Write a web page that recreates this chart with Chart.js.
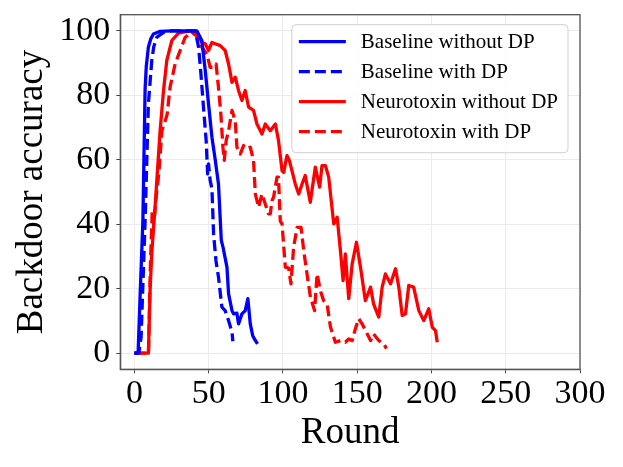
<!DOCTYPE html>
<html lang="en">
<head>
    <meta charset="UTF-8">
    <title>Backdoor accuracy vs Round</title>
    <script src="https://cdn.jsdelivr.net/npm/chart.js"></script>
    <style>
        body {
            margin: 0;
            background: #ffffff;
        }
        .chart-container {
            position: relative;
            width: 623px;
            height: 467px;
        }
    </style>
</head>
<body>
    <div class="chart-container">
        <canvas id="accChart"></canvas>
    </div>

    <script>
        // tick labels
        const xTickValues = [0, 50, 100, 150, 200, 250, 300];
        const yTickValues = [0, 20, 40, 60, 80, 100];

        // series: [round, backdoor accuracy]
        const baselineNoDP = [
            [0, 0], [2, 0], [2.5, 0.3], [4, 20], [5.7, 41], [7.2, 82], [8, 89], [9.4, 94.9],
            [11, 97.5], [12.8, 99], [17, 99.8], [25, 100], [35, 100], [42, 100], [45.4, 97],
            [47.7, 87.7], [49.9, 77.3], [52.2, 67], [54.4, 60], [56.6, 52.5], [58.5, 35],
            [59.6, 33], [62.3, 26.7], [63.4, 18.4], [65.7, 13.2], [66.8, 12.2], [69, 12.4],
            [70.1, 9.1], [72.4, 12.2], [74.6, 13.2], [76.4, 16.9], [78, 9.1], [79.6, 5.5],
            [80.8, 4.4], [82.9, 2.9]
        ];
        const baselineDP = [
            [0, 0], [3, 0], [4.5, 5], [7.2, 41], [9.4, 77.3], [11.7, 90.8], [13, 95], [15.1, 98],
            [19.6, 99.5], [25, 100], [35, 100], [41, 100], [43.2, 94.9], [44.8, 86.6], [46.5, 76.3],
            [48.3, 66], [48.8, 60.8], [49.3, 55.6], [49.9, 58.7], [51, 53.6], [52.2, 51],
            [53.3, 37], [54.9, 28.7], [56.6, 23.6], [58.9, 14.3], [61.1, 13.2], [63.4, 10.1],
            [65.7, 6.5], [66.3, 3.7]
        ];
        const neurotoxinNoDP = [
            [0, 0], [9.4, 0], [10, 10], [10.6, 20], [11.7, 31], [14, 46], [17.3, 69], [19.6, 81.5],
            [21.8, 90.8], [25.2, 97], [29.7, 99.3], [33, 99.6], [37.5, 100], [42, 99], [45.4, 96.4],
            [47.7, 96], [49.9, 93.9], [52.2, 96.4], [54.4, 96], [57.8, 95.4], [61.1, 93.9],
            [63.4, 89.7], [65.7, 84], [67.9, 85.6], [70.1, 81.5], [72.4, 78.4], [74.6, 81.5],
            [76.9, 76.3], [80.2, 75.3], [82.5, 71.1], [85.9, 68], [88.1, 71.1], [91.5, 69],
            [94.9, 71.1], [97, 66], [99.4, 56.6], [100.5, 56.1], [102.7, 61.3], [104.3, 59.8],
            [108.3, 52.5], [110.6, 49.4], [112.9, 52.5], [115, 55.1], [118.4, 46.8], [121.8, 57.7],
            [124.7, 51.5], [126.3, 58.2], [128.6, 58.2], [130.8, 54.6], [134.2, 40.1], [136.5, 42.2],
            [138.7, 31.8], [140.5, 22.5], [142, 30.8], [144.3, 16.9], [146.6, 27.7], [149.5, 34.4],
            [152.2, 26.7], [155.5, 16.3], [159, 20.5], [161, 15.3], [164.5, 11.2], [166.8, 20.5],
            [169, 24.6], [172.4, 21.5], [175.8, 26.2], [178, 20.5], [180.3, 11.7], [182.5, 12.2],
            [184.7, 21], [188, 20.5], [191.5, 13.2], [194.8, 10.1], [198.2, 13.8], [200.5, 8.1],
            [202.7, 7], [203.9, 3.4]
        ];
        const neurotoxinDP = [
            [0, 0], [9.5, 0], [10.2, 16], [10.8, 28], [11.5, 37], [12, 44], [13, 40], [15, 50],
            [16.5, 56], [18.5, 69], [20.7, 72], [22, 74], [24, 82.5], [27.4, 89.7], [30.8, 93.9],
            [34.2, 98], [38.7, 99.5], [43.1, 98], [45.4, 94.9], [48.8, 92.8], [51, 88.7],
            [53.3, 88.7], [55, 89.7], [56.6, 82.5], [58.2, 74.2], [59.6, 63.9], [60.5, 59.8],
            [61.8, 66], [63.4, 69], [65.7, 75.3], [67.9, 72], [69, 63.9], [71.3, 61.8],
            [73.5, 64.4], [75.8, 63.4], [78, 63.9], [80.2, 59.8], [81.4, 49.4], [83.6, 45.3],
            [85.9, 49.4], [88.1, 46.3], [90.3, 43.2], [91.5, 43.2], [92.6, 47.3], [93.7, 48.4],
            [96, 54.6], [97, 54.6], [98.2, 41], [99.4, 40.1], [101.6, 26.7], [103.8, 26.4],
            [105.4, 21.5], [107.2, 32.9], [109.5, 39], [112.2, 39], [114, 31.8], [116.2, 24.6],
            [118.5, 17.4], [121.3, 13.2], [123, 24.6], [125.2, 19.4], [127.4, 16.3], [129.7, 15.3],
            [132, 8.1], [135.3, 3.4], [138.7, 3.9], [142, 3.4], [144.3, 4.4], [146.6, 3.9],
            [148.8, 7.6], [151, 10.7], [153.3, 9.1], [156.7, 6], [159, 3.9], [161, 6],
            [164.5, 3.9], [167.9, 2.9], [169.7, 1.4]
        ];

        const serif = "'Liberation Serif', 'DejaVu Serif', serif";
        const toPoints = arr => arr.map(p => ({ x: p[0], y: p[1] }));

        function makeSet(label, pts, color, dashed) {
            return {
                label: label,
                data: toPoints(pts),
                borderColor: color,
                backgroundColor: color,
                borderWidth: 3.3,
                borderDash: dashed ? [11, 5] : [],
                borderCapStyle: 'butt',
                borderJoinStyle: 'round',
                pointRadius: 0,
                tension: 0,
                fill: false
            };
        }

        // frame around plot area (top/right spines too)
        const framePlugin = {
            id: 'frame',
            afterDatasetsDraw(chart) {
                const { ctx, chartArea: a } = chart;
                ctx.save();
                ctx.strokeStyle = '#555555';
                ctx.lineWidth = 1.3;
                ctx.strokeRect(a.left, a.top, a.right - a.left, a.bottom - a.top);
                ctx.restore();
            }
        };

        // legend drawn inside the plot, upper right
        const insideLegend = {
            id: 'insideLegend',
            afterDraw(chart) {
                const { ctx, chartArea: a } = chart;
                const sets = chart.data.datasets;
                ctx.save();
                ctx.font = '21px ' + serif;
                let maxW = 0;
                sets.forEach(ds => { maxW = Math.max(maxW, ctx.measureText(ds.label).width); });
                const w = 69 + maxW + 10;
                const h = 128;
                const x0 = a.right - 12 - w;
                const y0 = a.top + 10;
                ctx.beginPath();
                ctx.roundRect(x0, y0, w, h, 4);
                ctx.fillStyle = 'rgba(255,255,255,0.85)';
                ctx.fill();
                ctx.strokeStyle = '#d0d0d0';
                ctx.lineWidth = 1;
                ctx.stroke();
                sets.forEach((ds, i) => {
                    const cy = y0 + 17 + i * 30;
                    ctx.beginPath();
                    ctx.setLineDash(ds.borderDash);
                    ctx.strokeStyle = ds.borderColor;
                    ctx.lineWidth = 3.3;
                    ctx.lineCap = 'butt';
                    ctx.moveTo(x0 + 7, cy);
                    ctx.lineTo(x0 + 54, cy);
                    ctx.stroke();
                    ctx.setLineDash([]);
                    ctx.fillStyle = '#000000';
                    ctx.textBaseline = 'middle';
                    ctx.textAlign = 'left';
                    ctx.fillText(ds.label, x0 + 69, cy + 1);
                });
                ctx.restore();
            }
        };

        const ctx = document.getElementById('accChart').getContext('2d');
        const accChart = new Chart(ctx, {
            type: 'line',
            data: {
                datasets: [
                    makeSet('Baseline without DP', baselineNoDP, '#0000ff', false),
                    makeSet('Baseline with DP', baselineDP, '#0000ff', true),
                    makeSet('Neurotoxin without DP', neurotoxinNoDP, '#ff0000', false),
                    makeSet('Neurotoxin with DP', neurotoxinDP, '#ff0000', true)
                ]
            },
            options: {
                responsive: true,
                maintainAspectRatio: false,
                animation: false,
                layout: {
                    padding: { left: 0, top: 14.7, right: 43, bottom: 0 }
                },
                plugins: {
                    legend: { display: false },
                    tooltip: { enabled: false }
                },
                scales: {
                    x: {
                        type: 'linear',
                        min: -9.5,
                        max: 300,
                        afterBuildTicks: s => { s.ticks = xTickValues.map(v => ({ value: v })); },
                        afterFit: s => { s.height = 97.7; s.paddingLeft = 0; s.paddingRight = 0; },
                        ticks: {
                            autoSkip: false,
                            maxRotation: 0,
                            padding: 0,
                            color: '#000000',
                            font: { family: serif, size: 34 }
                        },
                        grid: {
                            color: '#ebebeb',
                            lineWidth: 1,
                            tickColor: '#444444',
                            tickLength: 4
                        },
                        border: { color: '#555555', width: 1.3 },
                        title: {
                            display: true,
                            text: 'Round',
                            color: '#000000',
                            font: { family: serif, size: 37 },
                            padding: { top: 0, bottom: 12 }
                        }
                    },
                    y: {
                        min: -5,
                        max: 105,
                        afterBuildTicks: s => { s.ticks = yTickValues.map(v => ({ value: v })); },
                        afterFit: s => { s.width = 120.3; s.paddingTop = 0; s.paddingBottom = 0; },
                        ticks: {
                            autoSkip: false,
                            padding: 6,
                            color: '#000000',
                            font: { family: serif, size: 34 }
                        },
                        grid: {
                            color: '#ebebeb',
                            lineWidth: 1,
                            tickColor: '#444444',
                            tickLength: 4
                        },
                        border: { color: '#555555', width: 1.3 },
                        title: {
                            display: true,
                            text: 'Backdoor accuracy',
                            color: '#000000',
                            font: { family: serif, size: 37 },
                            padding: { top: 10, bottom: 0 }
                        }
                    }
                }
            },
            plugins: [framePlugin, insideLegend]
        });
    </script>
</body>
</html>
